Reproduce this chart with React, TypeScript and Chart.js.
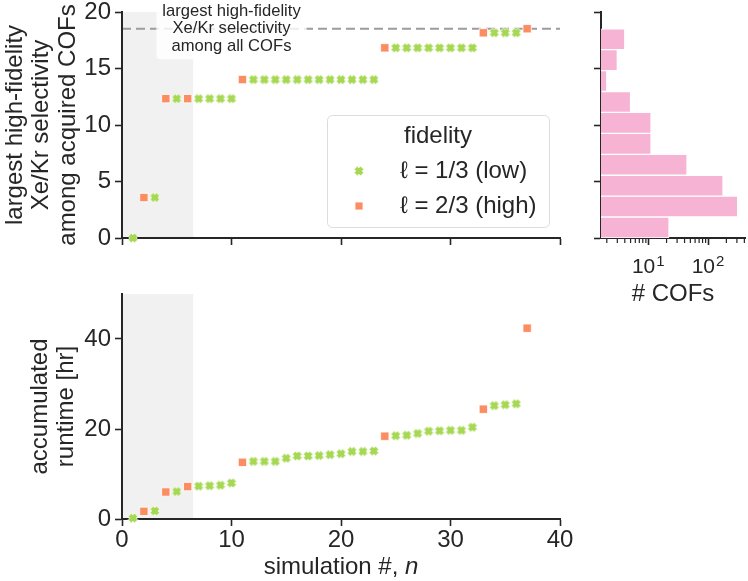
import { useEffect, useRef } from 'react';
import { Chart, registerables } from 'chart.js';

Chart.register(...registerables);

// ---------------- data ----------------
const simulationNumbers = [
  1, 2, 3, 4, 5, 6, 7, 8, 9, 10, 11, 12, 13, 14, 15, 16, 17, 18, 19, 20,
  21, 22, 23, 24, 25, 26, 27, 28, 29, 30, 31, 32, 33, 34, 35, 36, 37,
];
const fidelityLevels = [
  'low', 'high', 'low', 'high', 'low', 'high', 'low', 'low', 'low', 'low',
  'high', 'low', 'low', 'low', 'low', 'low', 'low', 'low', 'low', 'low',
  'low', 'low', 'low', 'high', 'low', 'low', 'low', 'low', 'low', 'low',
  'low', 'low', 'high', 'low', 'low', 'low', 'high',
];
const bestSelectivity = [
  0, 3.58, 3.58, 12.33, 12.33, 12.33, 12.33, 12.33, 12.33, 12.33,
  14.02, 14.02, 14.02, 14.02, 14.02, 14.02, 14.02, 14.02, 14.02, 14.02,
  14.02, 14.02, 14.02, 16.83, 16.83, 16.83, 16.83, 16.83, 16.83, 16.83,
  16.83, 16.83, 18.16, 18.16, 18.16, 18.16, 18.52,
];
const runtimeHours = [
  0.2, 1.7, 1.8, 6.0, 6.1, 7.2, 7.3, 7.4, 7.5, 8.0,
  12.6, 12.8, 12.8, 12.8, 13.5, 14.0, 14.0, 14.1, 14.3, 14.5,
  15.0, 15.0, 15.1, 18.4, 18.5, 18.6, 19.0, 19.5, 19.6, 19.7,
  19.7, 20.4, 24.4, 25.2, 25.4, 25.6, 42.4,
];
const maxSelectivityAllCOFs = 18.52;
const initialPhaseEnd = 6.5;
const annotationAnchorN = 10;
const annotationLines = ['largest high-fidelity', 'Xe/Kr selectivity', 'among all COFs'];

const histBinCenters = [0.93, 2.78, 4.63, 6.48, 8.33, 10.19, 12.04, 13.89, 15.74, 17.59];
const histCounts = [22, 310, 176, 44, 11, 11, 5, 2, 3, 4];

const simTicks = [0, 10, 20, 30, 40];
const selectivityTicks = [0, 5, 10, 15, 20];
const runtimeTicks = [0, 20, 40];
const cofMajorTicks = [10, 100];
const cofMajorExponents = ['1', '2'];
const cofMinorTicks = [2, 3, 4, 5, 6, 7, 8, 9, 20, 30, 40, 50, 60, 70, 80, 90, 200, 300, 400];

const legendTitle = 'fidelity';
const lowLabel = '\u2113 = 1/3 (low)';
const highLabel = '\u2113 = 2/3 (high)';

// ---------------- style ----------------
const FAMILY = "'Liberation Sans', Arial, Helvetica, sans-serif";
const INK = '#262626';
const GREEN = '#a6d854';
const ORANGE = '#fc8d62';
const PINK = '#f6b3d4';
const SHADE = 'rgba(0,0,0,0.055)';
const COF_LABEL_OFFSET = -5;
const COF_TICK_PAD = 10;

function makeXMarker(color: string, u: number) {
  const pts = [[-1, -2], [-1, -1], [-2, -1], [-2, 1], [-1, 1], [-1, 2], [1, 2], [1, 1], [2, 1], [2, -1], [1, -1], [1, -2]];
  const size = Math.ceil(2 * 2.2 * u + 3);
  const c = document.createElement('canvas');
  c.width = size;
  c.height = size;
  const g = c.getContext('2d')!;
  g.translate(size / 2, size / 2);
  g.rotate(Math.PI / 4);
  g.beginPath();
  pts.forEach(([px, py], i) => (i ? g.lineTo(px * u, py * u) : g.moveTo(px * u, py * u)));
  g.closePath();
  g.fillStyle = color;
  g.fill();
  g.strokeStyle = '#ffffff';
  g.lineWidth = 0.8;
  g.stroke();
  return c;
}

const fixedY = (w: number) => (s: any) => {
  s.width = w;
  s.paddingTop = 0;
  s.paddingBottom = 0;
};
const fixedX = (h: number) => (s: any) => {
  s.height = h;
  s.paddingLeft = 0;
  s.paddingRight = 0;
};
const setTicks = (vals: number[]) => (s: any) => {
  s.ticks = vals.map((value) => ({ value }));
};

const grid = {
  display: true,
  drawOnChartArea: false,
  drawTicks: true,
  tickLength: 7,
  tickWidth: 1.6,
  tickColor: INK,
};
const border = { display: true, color: INK, width: 2 };
const tickFont = { family: FAMILY, size: 24 };

function shadePlugin(id: string) {
  return {
    id,
    beforeDraw(chart: any) {
      const { ctx, chartArea, scales } = chart;
      const x0 = scales.x.getPixelForValue(0) + 1;
      const x1 = scales.x.getPixelForValue(initialPhaseEnd);
      ctx.save();
      ctx.fillStyle = SHADE;
      ctx.fillRect(x0, chartArea.top, x1 - x0, chartArea.bottom - chartArea.top);
      ctx.restore();
    },
  };
}

const refLinePlugin = {
  id: 'refline',
  beforeDraw(chart: any) {
    const { ctx, chartArea, scales } = chart;
    const y = scales.y.getPixelForValue(maxSelectivityAllCOFs);
    ctx.save();
    ctx.strokeStyle = '#9c9c9c';
    ctx.lineWidth = 2;
    ctx.setLineDash([9, 5]);
    ctx.beginPath();
    ctx.moveTo(chartArea.left, y);
    ctx.lineTo(chartArea.right, y);
    ctx.stroke();
    ctx.setLineDash([]);
    // annotation box + text
    const cx = scales.x.getPixelForValue(annotationAnchorN);
    const cy = y;
    const lh = 17.5;
    ctx.font = `16.6px ${FAMILY}`;
    const w = Math.max(...annotationLines.map((t) => ctx.measureText(t).width));
    const left = cx - w / 2 - 6;
    const right = cx + w / 2 + 6;
    const top = cy - lh - 14;
    const bottom = cy + lh + 13;
    ctx.fillStyle = 'rgba(255,255,255,0.82)';
    ctx.beginPath();
    (ctx as any).roundRect(left, top, right - left, bottom - top, 4);
    ctx.fill();
    ctx.fillStyle = INK;
    ctx.textAlign = 'center';
    ctx.textBaseline = 'middle';
    annotationLines.forEach((t, i) => ctx.fillText(t, cx, cy + (i - 1) * lh));
    ctx.restore();
  },
};

function legendPlugin(xImg: HTMLCanvasElement) {
  return {
    id: 'customLegend',
    afterDraw(chart: any) {
      const { ctx, chartArea } = chart;
      const w = 222;
      const h = 112;
      const right = chartArea.right - 11;
      const bottom = chartArea.bottom - 11;
      const left = right - w;
      const top = bottom - h;
      ctx.save();
      ctx.fillStyle = 'rgba(255,255,255,0.85)';
      ctx.strokeStyle = '#dcdcdc';
      ctx.lineWidth = 1;
      ctx.beginPath();
      ctx.roundRect(left + 0.5, top + 0.5, w, h, 5);
      ctx.fill();
      ctx.stroke();
      ctx.fillStyle = INK;
      ctx.font = `24px ${FAMILY}`;
      ctx.textBaseline = 'middle';
      ctx.textAlign = 'center';
      ctx.fillText(legendTitle, left + w / 2, top + 21);
      ctx.textAlign = 'left';
      const y1 = top + 56;
      const y2 = top + 91;
      ctx.drawImage(xImg, left + 32 - xImg.width / 2, y1 - xImg.height / 2);
      ctx.fillText(lowLabel, left + 73, y1);
      ctx.fillStyle = ORANGE;
      ctx.strokeStyle = '#ffffff';
      ctx.lineWidth = 0.8;
      ctx.fillRect(left + 28, y2 - 4, 8, 8);
      ctx.strokeRect(left + 28, y2 - 4, 8, 8);
      ctx.fillStyle = INK;
      ctx.fillText(highLabel, left + 73, y2);
      ctx.restore();
    },
  };
}

const xTitlePlugin = {
  id: 'xTitle',
  afterDraw(chart: any) {
    const { ctx, chartArea, scales } = chart;
    const cx = (chartArea.left + chartArea.right) / 2;
    const cy = scales.x.bottom - 14;
    const a = 'simulation #, ';
    const b = 'n';
    ctx.save();
    ctx.fillStyle = INK;
    ctx.textBaseline = 'middle';
    ctx.textAlign = 'left';
    ctx.font = `24px ${FAMILY}`;
    const wa = ctx.measureText(a).width;
    ctx.font = `italic 24px ${FAMILY}`;
    const wb = ctx.measureText(b).width;
    const start = cx - (wa + wb) / 2;
    ctx.font = `24px ${FAMILY}`;
    ctx.fillText(a, start, cy);
    ctx.font = `italic 24px ${FAMILY}`;
    ctx.fillText(b, start + wa, cy);
    ctx.restore();
  },
};

const logAxisPlugin = {
  id: 'logAxisExtras',
  afterDraw(chart: any) {
    const { ctx, chartArea, scales } = chart;
    ctx.save();
    // minor ticks
    ctx.strokeStyle = INK;
    ctx.lineWidth = 1.2;
    ctx.beginPath();
    cofMinorTicks.forEach((v) => {
      const px = scales.x.getPixelForValue(v);
      ctx.moveTo(px, chartArea.bottom + 1);
      ctx.lineTo(px, chartArea.bottom + 5);
    });
    ctx.stroke();
    // exponents of the major labels
    ctx.font = `21px ${FAMILY}`;
    const baseW = ctx.measureText('10').width;
    const labelMid = chartArea.bottom + 1 + 7 + COF_TICK_PAD + (21 * 1.2) / 2;
    ctx.font = `15px ${FAMILY}`;
    ctx.fillStyle = INK;
    ctx.textAlign = 'left';
    ctx.textBaseline = 'middle';
    cofMajorTicks.forEach((v, i) => {
      const px = scales.x.getPixelForValue(v) + COF_LABEL_OFFSET;
      ctx.fillText(cofMajorExponents[i], px + baseW / 2 + 1, labelMid - 7);
    });
    ctx.restore();
  },
};

function points(values: number[], level: string) {
  return simulationNumbers
    .map((n, i) => ({ x: n, y: values[i], f: fidelityLevels[i] }))
    .filter((p) => p.f === level)
    .map((p) => ({ x: p.x, y: p.y }));
}

function scatterDatasets(values: number[], xImg: HTMLCanvasElement) {
  return [
    {
      label: lowLabel,
      data: points(values, 'low'),
      pointStyle: xImg as any,
      pointRadius: 5,
      backgroundColor: GREEN,
      borderColor: '#ffffff',
      clip: false as any,
    },
    {
      label: highLabel,
      data: points(values, 'high'),
      pointStyle: 'rect' as any,
      pointRadius: 5.9,
      backgroundColor: ORANGE,
      borderColor: '#ffffff',
      borderWidth: 0.8,
      clip: false as any,
    },
  ];
}

const baseOptions = {
  animation: false as const,
  responsive: false,
  devicePixelRatio: 1,
  events: [] as any[],
  plugins: { legend: { display: false }, tooltip: { enabled: false } },
};

export default function App() {
  const refA = useRef<HTMLCanvasElement>(null);
  const refB = useRef<HTMLCanvasElement>(null);
  const refC = useRef<HTMLCanvasElement>(null);

  useEffect(() => {
    const xImg = makeXMarker(GREEN, 2.3);

    const chartA = new Chart(refA.current!, {
      type: 'scatter',
      data: { datasets: scatterDatasets(bestSelectivity, xImg) as any },
      options: {
        ...baseOptions,
        layout: { padding: { top: 12, right: 30, left: 0, bottom: 0 } },
        scales: {
          x: {
            type: 'linear',
            min: 0,
            max: 40,
            afterBuildTicks: setTicks(simTicks),
            ticks: { display: false },
            grid,
            border,
            afterFit: fixedX(42),
          },
          y: {
            type: 'linear',
            min: 0,
            max: 20,
            afterBuildTicks: setTicks(selectivityTicks),
            ticks: { font: tickFont, color: INK, padding: 4 },
            title: {
              display: true,
              text: ['largest high-fidelity', 'Xe/Kr selectivity', 'among acquired COFs'],
              font: { family: FAMILY, size: 24, lineHeight: 1.1 },
              color: INK,
              padding: { top: 2, bottom: 0 },
            },
            grid,
            border,
            afterFit: fixedY(122),
          },
        },
      } as any,
      plugins: [shadePlugin('shadeA'), refLinePlugin, legendPlugin(xImg)],
    });

    const chartB = new Chart(refB.current!, {
      type: 'bar',
      data: {
        datasets: [
          {
            data: histBinCenters.map((c, i) => ({ x: histCounts[i], y: c })),
            backgroundColor: PINK,
            borderColor: '#ffffff',
            borderWidth: 1,
            borderSkipped: 'start',
            barPercentage: 1,
            categoryPercentage: 1,
          },
        ] as any,
      },
      options: {
        ...baseOptions,
        indexAxis: 'y',
        layout: { padding: { top: 12, right: 3, left: 0, bottom: 0 } },
        scales: {
          x: {
            type: 'logarithmic',
            min: 1.6,
            max: 410,
            afterBuildTicks: setTicks([...cofMinorTicks, ...cofMajorTicks].sort((a, b) => a - b)),
            ticks: {
              autoSkip: false,
              maxRotation: 0,
              font: { family: FAMILY, size: 21 },
              color: INK,
              padding: COF_TICK_PAD,
              labelOffset: COF_LABEL_OFFSET,
              callback: (v: any) => (cofMajorTicks.includes(Number(v)) ? '10' : ''),
            },
            grid: {
              ...grid,
              tickColor: (ctx: any) => (cofMajorTicks.includes(ctx.tick?.value) ? INK : 'rgba(0,0,0,0)'),
            },
            border,
            title: {
              display: true,
              text: '# COFs',
              font: { family: FAMILY, size: 24 },
              color: INK,
              padding: { top: 0, bottom: 1 },
            },
            afterFit: fixedX(72),
          },
          y: {
            type: 'linear',
            min: 0,
            max: 20,
            offset: false,
            afterBuildTicks: setTicks(selectivityTicks),
            ticks: { display: false },
            grid: { ...grid, offset: false },
            border,
            afterFit: fixedY(11),
          },
        },
      } as any,
      plugins: [logAxisPlugin],
    });

    const chartC = new Chart(refC.current!, {
      type: 'scatter',
      data: { datasets: scatterDatasets(runtimeHours, xImg) as any },
      options: {
        ...baseOptions,
        layout: { padding: { top: 14, right: 30, left: 0, bottom: 0 } },
        scales: {
          x: {
            type: 'linear',
            min: 0,
            max: 40,
            afterBuildTicks: setTicks(simTicks),
            ticks: { font: tickFont, color: INK, padding: 0, maxRotation: 0 },
            grid,
            border,
            afterFit: fixedX(62),
          },
          y: {
            type: 'linear',
            min: 0,
            max: 50,
            afterBuildTicks: setTicks(runtimeTicks),
            ticks: { font: tickFont, color: INK, padding: 4 },
            title: {
              display: true,
              text: ['accumulated', 'runtime [hr]'],
              font: { family: FAMILY, size: 24, lineHeight: 1.1 },
              color: INK,
              padding: { top: 27, bottom: 0 },
            },
            grid,
            border,
            afterFit: fixedY(122),
          },
        },
      } as any,
      plugins: [shadePlugin('shadeC'), xTitlePlugin],
    });

    return () => {
      chartA.destroy();
      chartB.destroy();
      chartC.destroy();
    };
  }, []);

  return (
    <div style={{ position: 'absolute', left: 0, top: 0, width: 748, height: 581, background: '#ffffff' }}>
      <canvas ref={refA} width={590} height={280} style={{ position: 'absolute', left: 0, top: 0 }} />
      <canvas ref={refB} width={158} height={310} style={{ position: 'absolute', left: 590, top: 0 }} />
      <canvas ref={refC} width={590} height={301} style={{ position: 'absolute', left: 0, top: 280 }} />
    </div>
  );
}
